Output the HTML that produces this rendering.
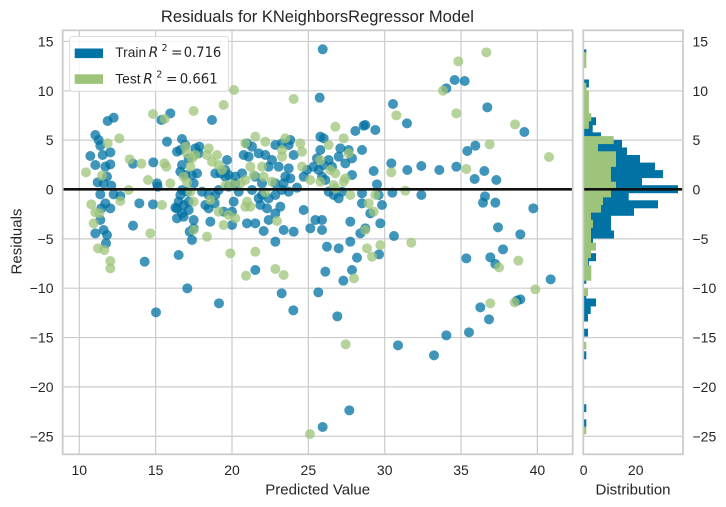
<!DOCTYPE html>
<html><head><meta charset="utf-8"><style>
html,body{margin:0;padding:0;background:#fff;}
svg{display:block;font-family:"Liberation Sans",Arial,sans-serif;}
</style></head><body>
<svg width="726" height="507" viewBox="0 0 726 507" xmlns="http://www.w3.org/2000/svg">
<rect width="726" height="507" fill="#fff"/>
<!-- main grid -->
<g stroke="#cccccc" stroke-width="1.2">
<line x1="79.3" y1="30.3" x2="79.3" y2="454.3"/>
<line x1="155.65" y1="30.3" x2="155.65" y2="454.3"/>
<line x1="232" y1="30.3" x2="232" y2="454.3"/>
<line x1="308.35" y1="30.3" x2="308.35" y2="454.3"/>
<line x1="384.7" y1="30.3" x2="384.7" y2="454.3"/>
<line x1="461.05" y1="30.3" x2="461.05" y2="454.3"/>
<line x1="537.4" y1="30.3" x2="537.4" y2="454.3"/>
<line x1="62.7" y1="41.45" x2="572.7" y2="41.45"/>
<line x1="62.7" y1="90.8" x2="572.7" y2="90.8"/>
<line x1="62.7" y1="140.15" x2="572.7" y2="140.15"/>
<line x1="62.7" y1="238.85" x2="572.7" y2="238.85"/>
<line x1="62.7" y1="288.2" x2="572.7" y2="288.2"/>
<line x1="62.7" y1="337.55" x2="572.7" y2="337.55"/>
<line x1="62.7" y1="386.9" x2="572.7" y2="386.9"/>
<line x1="62.7" y1="436.25" x2="572.7" y2="436.25"/>
<!-- hist grid -->
<line x1="583.3" y1="41.45" x2="683" y2="41.45"/>
<line x1="583.3" y1="90.8" x2="683" y2="90.8"/>
<line x1="583.3" y1="140.15" x2="683" y2="140.15"/>
<line x1="583.3" y1="238.85" x2="683" y2="238.85"/>
<line x1="583.3" y1="288.2" x2="683" y2="288.2"/>
<line x1="583.3" y1="337.55" x2="683" y2="337.55"/>
<line x1="583.3" y1="386.9" x2="683" y2="386.9"/>
<line x1="583.3" y1="436.25" x2="683" y2="436.25"/>
</g>
<!-- hist blue bars -->
<g fill="#0072a3">
<rect x="583.7" y="49.3" width="2.6" height="8"/>
<rect x="583.7" y="79.5" width="5.2" height="8"/>
<rect x="583.7" y="87.1" width="2.6" height="7.9"/>
<rect x="583.7" y="94.6" width="2.6" height="8"/>
<rect x="583.7" y="102.2" width="2.6" height="7.9"/>
<rect x="583.7" y="109.7" width="2.6" height="8"/>
<rect x="583.7" y="117.3" width="12.3" height="7.9"/>
<rect x="583.7" y="124.8" width="9" height="8"/>
<rect x="583.7" y="132.4" width="17.3" height="7.9"/>
<rect x="583.7" y="139.9" width="38.3" height="8"/>
<rect x="583.7" y="147.5" width="43.3" height="7.9"/>
<rect x="583.7" y="155.0" width="56.3" height="8"/>
<rect x="583.7" y="162.6" width="71.3" height="7.9"/>
<rect x="583.7" y="170.1" width="79.3" height="8"/>
<rect x="583.7" y="177.7" width="58.3" height="7.9"/>
<rect x="583.7" y="185.2" width="94.3" height="8"/>
<rect x="583.7" y="192.8" width="45" height="7.9"/>
<rect x="583.7" y="200.3" width="74.3" height="8"/>
<rect x="583.7" y="207.9" width="50.3" height="7.9"/>
<rect x="583.7" y="215.4" width="27.3" height="8"/>
<rect x="583.7" y="223.0" width="27.3" height="7.9"/>
<rect x="583.7" y="230.5" width="30.3" height="8"/>
<rect x="583.7" y="238.1" width="9.3" height="7.9"/>
<rect x="583.7" y="245.6" width="5.3" height="8"/>
<rect x="583.7" y="253.2" width="12.3" height="8"/>
<rect x="583.7" y="260.8" width="5.2" height="7.9"/>
<rect x="583.7" y="268.3" width="2.6" height="7.9"/>
<rect x="583.7" y="275.8" width="2.6" height="8"/>
<rect x="583.7" y="290.9" width="2.6" height="8"/>
<rect x="583.7" y="298.5" width="12.3" height="7.9"/>
<rect x="583.7" y="306.0" width="7" height="8"/>
<rect x="583.7" y="313.6" width="4.3" height="7.9"/>
<rect x="583.7" y="328.7" width="4.3" height="7.9"/>
<rect x="583.7" y="351.3" width="2.6" height="8"/>
<rect x="583.7" y="404.2" width="2.6" height="7.9"/>
<rect x="583.7" y="419.3" width="2.6" height="8"/>
</g>
<!-- hist green bars -->
<g fill="#9dc47a">
<rect x="583.7" y="52.3" width="2.6" height="8"/>
<rect x="583.7" y="59.9" width="2.6" height="8"/>
<rect x="583.7" y="82.8" width="2.6" height="8"/>
<rect x="583.7" y="90.4" width="5.2" height="8"/>
<rect x="583.7" y="98.0" width="5.2" height="8"/>
<rect x="583.7" y="105.6" width="5.2" height="8.1"/>
<rect x="583.7" y="113.3" width="7.6" height="8"/>
<rect x="583.7" y="120.9" width="5.2" height="8"/>
<rect x="583.7" y="136.1" width="30" height="8"/>
<rect x="583.7" y="143.7" width="14.3" height="8"/>
<rect x="583.7" y="151.3" width="32.3" height="8"/>
<rect x="583.7" y="158.9" width="32.3" height="8"/>
<rect x="583.7" y="166.5" width="27.3" height="8"/>
<rect x="583.7" y="174.1" width="27.3" height="8"/>
<rect x="583.7" y="181.7" width="32.3" height="8.1"/>
<rect x="583.7" y="189.4" width="27.3" height="8"/>
<rect x="583.7" y="197.0" width="19.3" height="8"/>
<rect x="583.7" y="204.6" width="17.3" height="8"/>
<rect x="583.7" y="212.2" width="7.3" height="8"/>
<rect x="583.7" y="219.8" width="9.3" height="8"/>
<rect x="583.7" y="227.4" width="7.3" height="8"/>
<rect x="583.7" y="235.0" width="7.3" height="8"/>
<rect x="583.7" y="242.6" width="12.3" height="8"/>
<rect x="583.7" y="250.2" width="7.3" height="8"/>
<rect x="583.7" y="257.8" width="4.3" height="8"/>
<rect x="583.7" y="265.4" width="7.6" height="8"/>
<rect x="583.7" y="273.0" width="7.6" height="7.7"/>
<rect x="583.7" y="288.3" width="4.3" height="7.6"/>
<rect x="583.7" y="341.8" width="2.6" height="7.6"/>
<rect x="583.7" y="426.7" width="2.6" height="7.6"/>
</g>
<!-- blue scatter -->
<g fill="#0072a3" fill-opacity="0.75">
<circle cx="322.7" cy="49.3" r="5"/>
<g transform="translate(62,95) scale(0.33333)">
<circle cx="155" cy="68" r="15"/><circle cx="137" cy="78" r="15"/><circle cx="100" cy="120" r="15"/><circle cx="110" cy="135" r="15"/><circle cx="115" cy="152" r="15"/><circle cx="85" cy="183" r="15"/><circle cx="122" cy="180" r="15"/><circle cx="145" cy="172" r="15"/><circle cx="100" cy="210" r="15"/><circle cx="130" cy="215" r="15"/><circle cx="145" cy="208" r="15"/><circle cx="135" cy="245" r="15"/><circle cx="107" cy="262" r="15"/><circle cx="125" cy="265" r="15"/><circle cx="148" cy="272" r="15"/><circle cx="115" cy="298" r="15"/><circle cx="155" cy="298" r="15"/><circle cx="175" cy="303" r="15"/><circle cx="130" cy="325" r="15"/><circle cx="118" cy="340" r="15"/><circle cx="145" cy="340" r="15"/><circle cx="115" cy="375" r="15"/><circle cx="100" cy="415" r="15"/><circle cx="125" cy="405" r="15"/><circle cx="135" cy="420" r="15"/><circle cx="132" cy="445" r="15"/><circle cx="213" cy="392" r="15"/><circle cx="232" cy="325" r="15"/><circle cx="248" cy="500" r="15"/><circle cx="274" cy="202" r="15"/><circle cx="213" cy="206" r="15"/><circle cx="273" cy="328" r="15"/><circle cx="287" cy="275" r="15"/><circle cx="285" cy="265" r="15"/><circle cx="315" cy="140" r="15"/><circle cx="298" cy="75" r="15"/><circle cx="325" cy="55" r="15"/><circle cx="450" cy="75" r="15"/><circle cx="350" cy="480" r="15"/><circle cx="360" cy="132" r="15"/><circle cx="355" cy="165" r="15"/><circle cx="345" cy="170" r="15"/><circle cx="370" cy="150" r="15"/><circle cx="400" cy="160" r="15"/><circle cx="412" cy="155" r="15"/><circle cx="410" cy="175" r="15"/><circle cx="380" cy="190" r="15"/><circle cx="360" cy="210" r="15"/><circle cx="355" cy="230" r="15"/><circle cx="370" cy="240" r="15"/><circle cx="390" cy="240" r="15"/><circle cx="405" cy="235" r="15"/><circle cx="395" cy="265" r="15"/><circle cx="360" cy="285" r="15"/><circle cx="375" cy="290" r="15"/><circle cx="355" cy="300" r="15"/><circle cx="350" cy="320" r="15"/><circle cx="345" cy="340" r="15"/><circle cx="365" cy="330" r="15"/><circle cx="380" cy="345" r="15"/><circle cx="360" cy="355" r="15"/><circle cx="345" cy="370" r="15"/><circle cx="365" cy="365" r="15"/><circle cx="395" cy="375" r="15"/><circle cx="383" cy="410" r="15"/><circle cx="390" cy="435" r="15"/><circle cx="395" cy="400" r="15"/><circle cx="340" cy="338" r="15"/><circle cx="380" cy="320" r="15"/><circle cx="420" cy="290" r="15"/><circle cx="440" cy="300" r="15"/><circle cx="460" cy="300" r="15"/><circle cx="440" cy="340" r="15"/><circle cx="430" cy="330" r="15"/><circle cx="445" cy="380" r="15"/><circle cx="458" cy="325" r="15"/><circle cx="470" cy="285" r="15"/><circle cx="460" cy="235" r="15"/><circle cx="475" cy="235" r="15"/><circle cx="490" cy="245" r="15"/>
</g>
<g transform="translate(222,95) scale(0.33333)">
<circle cx="293" cy="8" r="15"/><circle cx="430" cy="90" r="15"/><circle cx="400" cy="108" r="15"/><circle cx="460" cy="105" r="15"/><circle cx="425" cy="92" r="15"/><circle cx="295" cy="125" r="15"/><circle cx="305" cy="130" r="15"/><circle cx="75" cy="145" r="15"/><circle cx="90" cy="155" r="15"/><circle cx="65" cy="180" r="15"/><circle cx="80" cy="185" r="15"/><circle cx="110" cy="175" r="15"/><circle cx="130" cy="180" r="15"/><circle cx="160" cy="150" r="15"/><circle cx="180" cy="145" r="15"/><circle cx="200" cy="150" r="15"/><circle cx="205" cy="135" r="15"/><circle cx="215" cy="180" r="15"/><circle cx="150" cy="195" r="15"/><circle cx="140" cy="215" r="15"/><circle cx="170" cy="215" r="15"/><circle cx="200" cy="220" r="15"/><circle cx="190" cy="245" r="15"/><circle cx="205" cy="250" r="15"/><circle cx="185" cy="265" r="15"/><circle cx="160" cy="265" r="15"/><circle cx="120" cy="265" r="15"/><circle cx="100" cy="245" r="15"/><circle cx="60" cy="235" r="15"/><circle cx="40" cy="245" r="15"/><circle cx="20" cy="240" r="15"/><circle cx="10" cy="225" r="15"/><circle cx="15" cy="195" r="15"/><circle cx="40" cy="265" r="15"/><circle cx="20" cy="275" r="15"/><circle cx="225" cy="278" r="15"/><circle cx="245" cy="245" r="15"/><circle cx="255" cy="225" r="15"/><circle cx="275" cy="215" r="15"/><circle cx="295" cy="165" r="15"/><circle cx="285" cy="190" r="15"/><circle cx="320" cy="195" r="15"/><circle cx="305" cy="210" r="15"/><circle cx="300" cy="245" r="15"/><circle cx="290" cy="225" r="15"/><circle cx="330" cy="215" r="15"/><circle cx="350" cy="185" r="15"/><circle cx="355" cy="160" r="15"/><circle cx="380" cy="165" r="15"/><circle cx="390" cy="190" r="15"/><circle cx="370" cy="205" r="15"/><circle cx="420" cy="165" r="15"/><circle cx="455" cy="228" r="15"/><circle cx="465" cy="268" r="15"/><circle cx="390" cy="240" r="15"/><circle cx="310" cy="255" r="15"/><circle cx="320" cy="290" r="15"/><circle cx="335" cy="300" r="15"/><circle cx="350" cy="310" r="15"/><circle cx="360" cy="290" r="15"/><circle cx="420" cy="295" r="15"/><circle cx="470" cy="300" r="15"/><circle cx="480" cy="330" r="15"/><circle cx="420" cy="325" r="15"/><circle cx="445" cy="355" r="15"/><circle cx="475" cy="385" r="15"/><circle cx="385" cy="380" r="15"/><circle cx="430" cy="400" r="15"/><circle cx="415" cy="415" r="15"/><circle cx="385" cy="440" r="15"/><circle cx="350" cy="460" r="15"/><circle cx="315" cy="455" r="15"/><circle cx="405" cy="488" r="15"/><circle cx="300" cy="405" r="15"/><circle cx="265" cy="400" r="15"/><circle cx="280" cy="375" r="15"/><circle cx="300" cy="375" r="15"/><circle cx="245" cy="345" r="15"/><circle cx="215" cy="410" r="15"/><circle cx="185" cy="405" r="15"/><circle cx="160" cy="440" r="15"/><circle cx="125" cy="408" r="15"/><circle cx="100" cy="385" r="15"/><circle cx="75" cy="385" r="15"/><circle cx="140" cy="375" r="15"/><circle cx="160" cy="355" r="15"/><circle cx="175" cy="335" r="15"/><circle cx="135" cy="340" r="15"/><circle cx="115" cy="330" r="15"/><circle cx="110" cy="310" r="15"/><circle cx="140" cy="310" r="15"/><circle cx="160" cy="300" r="15"/><circle cx="180" cy="285" r="15"/><circle cx="200" cy="290" r="15"/><circle cx="35" cy="320" r="15"/><circle cx="30" cy="350" r="15"/><circle cx="5" cy="350" r="15"/><circle cx="30" cy="390" r="15"/><circle cx="100" cy="525" r="15"/><circle cx="310" cy="530" r="15"/><circle cx="390" cy="525" r="15"/><circle cx="50" cy="290" r="15"/><circle cx="90" cy="285" r="15"/><circle cx="120" cy="300" r="15"/>
</g>
<g transform="translate(363,0) scale(0.33333)">
<circle cx="275" cy="240" r="15"/><circle cx="305" cy="243" r="15"/><circle cx="250" cy="265" r="15"/><circle cx="90" cy="312" r="15"/><circle cx="373" cy="322" r="15"/><circle cx="132" cy="370" r="15"/><circle cx="484" cy="396" r="15"/><circle cx="337" cy="437" r="15"/><circle cx="313" cy="453" r="15"/><circle cx="85" cy="490" r="15"/><circle cx="133" cy="510" r="15"/><circle cx="175" cy="498" r="15"/><circle cx="229" cy="510" r="15"/><circle cx="280" cy="500" r="15"/><circle cx="364" cy="513" r="15"/><circle cx="335" cy="537" r="15"/><circle cx="400" cy="540" r="15"/><circle cx="88" cy="578" r="15"/><circle cx="175" cy="585" r="15"/><circle cx="366" cy="589" r="15"/><circle cx="360" cy="608" r="15"/><circle cx="397" cy="608" r="15"/><circle cx="511" cy="625" r="15"/><circle cx="405" cy="682" r="15"/><circle cx="472" cy="703" r="15"/><circle cx="93" cy="708" r="15"/><circle cx="420" cy="748" r="15"/>
</g>
<g transform="translate(363,250) scale(0.33333)">
<circle cx="48" cy="13" r="15"/><circle cx="310" cy="25" r="15"/><circle cx="382" cy="22" r="15"/><circle cx="397" cy="42" r="15"/><circle cx="563" cy="88" r="15"/><circle cx="472" cy="148" r="15"/><circle cx="462" cy="152" r="15"/><circle cx="352" cy="172" r="15"/><circle cx="378" cy="208" r="15"/><circle cx="250" cy="256" r="15"/><circle cx="318" cy="247" r="15"/><circle cx="105" cy="286" r="15"/><circle cx="213" cy="316" r="15"/>
</g>
<g transform="translate(0,250) scale(0.33333)">
<circle cx="562" cy="115" r="15"/><circle cx="468" cy="187" r="15"/><circle cx="657" cy="160" r="15"/><circle cx="845" cy="130" r="15"/><circle cx="880" cy="181" r="15"/><circle cx="955" cy="127" r="15"/><circle cx="1012" cy="199" r="15"/><circle cx="1030" cy="92" r="15"/><circle cx="1048" cy="481" r="15"/><circle cx="968" cy="531" r="15"/>
</g>
</g>
<!-- green scatter -->
<g fill="#9dc47a" fill-opacity="0.75">
<circle cx="234" cy="90" r="5"/>
<g transform="translate(62,95) scale(0.33333)">
<circle cx="137" cy="145" r="15"/><circle cx="72" cy="232" r="15"/><circle cx="120" cy="242" r="15"/><circle cx="175" cy="318" r="15"/><circle cx="200" cy="285" r="15"/><circle cx="88" cy="328" r="15"/><circle cx="100" cy="352" r="15"/><circle cx="112" cy="355" r="15"/><circle cx="95" cy="385" r="15"/><circle cx="108" cy="460" r="15"/><circle cx="127" cy="465" r="15"/><circle cx="145" cy="498" r="15"/><circle cx="145" cy="520" r="15"/><circle cx="265" cy="415" r="15"/><circle cx="238" cy="206" r="15"/><circle cx="203" cy="193" r="15"/><circle cx="172" cy="130" r="15"/><circle cx="300" cy="330" r="15"/><circle cx="258" cy="255" r="15"/><circle cx="325" cy="265" r="15"/><circle cx="307" cy="205" r="15"/><circle cx="313" cy="215" r="15"/><circle cx="273" cy="57" r="15"/><circle cx="308" cy="72" r="15"/><circle cx="395" cy="48" r="15"/><circle cx="485" cy="30" r="15"/><circle cx="370" cy="155" r="15"/><circle cx="375" cy="175" r="15"/><circle cx="400" cy="180" r="15"/><circle cx="390" cy="190" r="15"/><circle cx="385" cy="215" r="15"/><circle cx="365" cy="245" r="15"/><circle cx="375" cy="262" r="15"/><circle cx="395" cy="320" r="15"/><circle cx="385" cy="290" r="15"/><circle cx="440" cy="160" r="15"/><circle cx="435" cy="180" r="15"/><circle cx="465" cy="180" r="15"/><circle cx="450" cy="200" r="15"/><circle cx="470" cy="210" r="15"/><circle cx="480" cy="225" r="15"/><circle cx="445" cy="315" r="15"/><circle cx="470" cy="350" r="15"/><circle cx="485" cy="390" r="15"/><circle cx="435" cy="425" r="15"/><circle cx="395" cy="405" r="15"/>
</g>
<g transform="translate(222,95) scale(0.33333)">
<circle cx="215" cy="12" r="15"/><circle cx="340" cy="95" r="15"/><circle cx="190" cy="130" r="15"/><circle cx="100" cy="125" r="15"/><circle cx="70" cy="145" r="15"/><circle cx="130" cy="140" r="15"/><circle cx="235" cy="145" r="15"/><circle cx="240" cy="170" r="15"/><circle cx="180" cy="165" r="15"/><circle cx="180" cy="185" r="15"/><circle cx="320" cy="150" r="15"/><circle cx="365" cy="130" r="15"/><circle cx="380" cy="175" r="15"/><circle cx="295" cy="195" r="15"/><circle cx="325" cy="225" r="15"/><circle cx="340" cy="235" r="15"/><circle cx="370" cy="250" r="15"/><circle cx="365" cy="260" r="15"/><circle cx="335" cy="270" r="15"/><circle cx="265" cy="255" r="15"/><circle cx="295" cy="260" r="15"/><circle cx="240" cy="215" r="15"/><circle cx="120" cy="215" r="15"/><circle cx="85" cy="215" r="15"/><circle cx="95" cy="240" r="15"/><circle cx="125" cy="245" r="15"/><circle cx="150" cy="260" r="15"/><circle cx="70" cy="255" r="15"/><circle cx="55" cy="265" r="15"/><circle cx="30" cy="268" r="15"/><circle cx="10" cy="272" r="15"/><circle cx="130" cy="292" r="15"/><circle cx="75" cy="320" r="15"/><circle cx="70" cy="335" r="15"/><circle cx="85" cy="335" r="15"/><circle cx="385" cy="300" r="15"/><circle cx="440" cy="325" r="15"/><circle cx="455" cy="350" r="15"/><circle cx="460" cy="300" r="15"/><circle cx="165" cy="378" r="15"/><circle cx="40" cy="370" r="15"/><circle cx="20" cy="360" r="15"/><circle cx="430" cy="405" r="15"/><circle cx="435" cy="460" r="15"/><circle cx="475" cy="450" r="15"/><circle cx="450" cy="485" r="15"/><circle cx="25" cy="475" r="15"/><circle cx="100" cy="470" r="15"/><circle cx="160" cy="522" r="15"/><circle cx="185" cy="540" r="15"/><circle cx="340" cy="280" r="15"/>
</g>
<g transform="translate(363,0) scale(0.33333)">
<circle cx="370" cy="157" r="15"/><circle cx="286" cy="184" r="15"/><circle cx="240" cy="272" r="15"/><circle cx="100" cy="346" r="15"/><circle cx="280" cy="340" r="15"/><circle cx="456" cy="373" r="15"/><circle cx="380" cy="433" r="15"/><circle cx="558" cy="471" r="15"/><circle cx="85" cy="517" r="15"/><circle cx="310" cy="507" r="15"/><circle cx="127" cy="572" r="15"/><circle cx="145" cy="728" r="15"/>
</g>
<g transform="translate(363,250) scale(0.33333)">
<circle cx="408" cy="52" r="15"/><circle cx="466" cy="32" r="15"/><circle cx="517" cy="118" r="15"/><circle cx="455" cy="157" r="15"/><circle cx="382" cy="160" r="15"/>
</g>
<g transform="translate(0,250) scale(0.33333)">
<circle cx="738" cy="77" r="15"/><circle cx="1062" cy="85" r="15"/><circle cx="1037" cy="283" r="15"/><circle cx="930" cy="552" r="15"/>
</g>
</g>
<!-- zero lines -->
<line x1="62.7" y1="189.3" x2="572.7" y2="189.3" stroke="#111" stroke-width="2.6"/>
<line x1="583.3" y1="189.3" x2="683" y2="189.3" stroke="#111" stroke-width="2.6"/>
<!-- spines -->
<rect x="62.7" y="30.3" width="510" height="424" fill="none" stroke="#cccccc" stroke-width="1.8"/>
<rect x="583.3" y="30.3" width="99.7" height="424" fill="none" stroke="#cccccc" stroke-width="1.8"/>
<!-- legend -->
<rect x="69.5" y="36.5" width="159" height="55" rx="3" fill="#fff" fill-opacity="0.8" stroke="#dddddd" stroke-width="1"/>
<rect x="74.7" y="48.5" width="28.3" height="9.6" fill="#0072a3"/>
<rect x="74.7" y="74.3" width="28.3" height="9.6" fill="#9dc47a"/>
<g fill="#262626" font-size="13.75">
<text x="115.3" y="57">Train</text>
<text x="115.3" y="83.3">Test</text>
</g>
<g fill="#262626" font-size="13.75" font-family="'DejaVu Sans',sans-serif">
<text x="148.7" y="57" font-style="italic">R</text>
<text x="161.5" y="51" font-size="9.6">2</text>
<text x="171" y="57">=</text>
<text x="183.7" y="57" textLength="37.6" lengthAdjust="spacingAndGlyphs">0.716</text>
<text x="143.3" y="83.3" font-style="italic">R</text>
<text x="156.3" y="77.3" font-size="9.6">2</text>
<text x="166" y="83.3">=</text>
<text x="179.7" y="83.3" textLength="38" lengthAdjust="spacingAndGlyphs">0.661</text>
</g>
<!-- title -->
<text x="317.4" y="22" text-anchor="middle" font-size="16.5" fill="#262626" textLength="313" lengthAdjust="spacingAndGlyphs">Residuals for KNeighborsRegressor Model</text>
<!-- y tick labels main -->
<g fill="#262626" font-size="14" text-anchor="end">
<text x="53.5" y="46.5">15</text>
<text x="53.5" y="95.8">10</text>
<text x="53.5" y="145.2">5</text>
<text x="53.5" y="194.5">0</text>
<text x="53.5" y="243.9">−5</text>
<text x="53.5" y="293.2">−10</text>
<text x="53.5" y="342.6">−15</text>
<text x="53.5" y="391.9">−20</text>
<text x="53.5" y="441.3">−25</text>
</g>
<!-- y tick labels hist -->
<g fill="#262626" font-size="14" text-anchor="start">
<text x="692.5" y="46.5">15</text>
<text x="692.5" y="95.8">10</text>
<text x="692.5" y="145.2">5</text>
<text x="692.5" y="194.5">0</text>
<text x="692.5" y="243.9">−5</text>
<text x="692.5" y="293.2">−10</text>
<text x="692.5" y="342.6">−15</text>
<text x="692.5" y="391.9">−20</text>
<text x="692.5" y="441.3">−25</text>
</g>
<!-- x tick labels -->
<g fill="#262626" font-size="14" text-anchor="middle">
<text x="79.3" y="475">10</text>
<text x="155.65" y="475">15</text>
<text x="232" y="475">20</text>
<text x="308.35" y="475">25</text>
<text x="384.7" y="475">30</text>
<text x="461.05" y="475">35</text>
<text x="537.4" y="475">40</text>
<text x="583.7" y="475">0</text>
<text x="635.7" y="475">20</text>
</g>
<!-- axis labels -->
<g fill="#262626" font-size="15" text-anchor="middle">
<text x="317.7" y="494.5">Predicted Value</text>
<text x="633" y="494.5">Distribution</text>
<text transform="translate(21.5,241.5) rotate(-90)">Residuals</text>
</g>
</svg>
</body></html>
